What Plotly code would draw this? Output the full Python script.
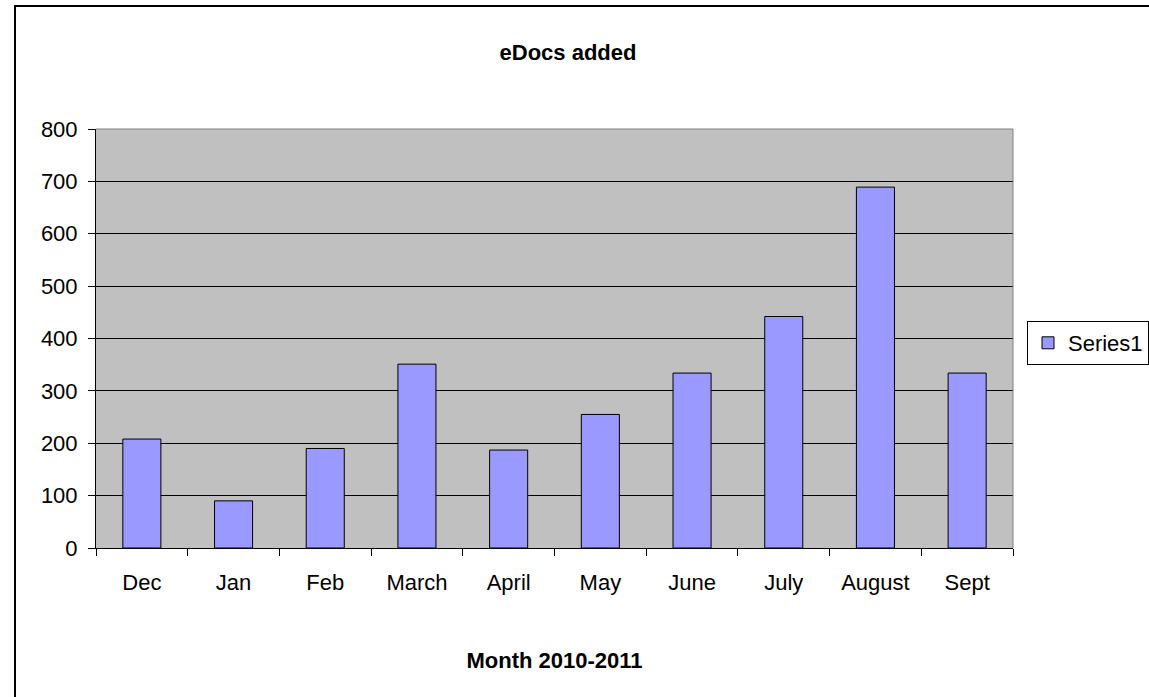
import plotly.graph_objects as go

months = ["Dec", "Jan", "Feb", "March", "April", "May", "June", "July", "August", "Sept"]
edocs = [208, 90, 190, 351, 187, 255, 334, 442, 689, 334]
y_ticks = [0, 100, 200, 300, 400, 500, 600, 700, 800]

W, H = 1149, 697
L, R, T, B = 96, 136, 129, 149
pw, ph = W - L - R, H - T - B

fig = go.Figure()
fig.add_trace(go.Bar(
    x=months, y=edocs, name="Series1",
    marker=dict(color="#9999FF", line=dict(color="black", width=1)),
))

FONT = "Liberation Sans, Arial, sans-serif"

fig.update_layout(
    width=W, height=H,
    margin=dict(l=L, r=R, t=T, b=B, autoexpand=False),
    paper_bgcolor="white",
    plot_bgcolor="#C0C0C0",
    bargap=0.585,
    font=dict(family=FONT, size=22, color="black"),
    title=dict(text="<b>eDocs added</b>", x=568 / W, xanchor="center",
               y=1 - 52 / H, yanchor="middle", font=dict(size=22)),
    showlegend=True,
    legend=dict(x=(1027 - L) / pw, xanchor="left", y=1 - (321 - T) / ph, yanchor="top",
                bordercolor="black", borderwidth=1, bgcolor="white",
                font=dict(size=22), itemwidth=30, tracegroupgap=0),
    xaxis=dict(
        showgrid=False, showline=True, linecolor="black", linewidth=1,
        ticks="outside", tickson="boundaries", ticklen=7, tickcolor="black",
        ticklabelstandoff=15,
        title=dict(text="<b>Month 2010-2011</b>", font=dict(size=22), standoff=58),
        mirror=False,
    ),
    yaxis=dict(
        range=[0, 800], tickvals=y_ticks, showgrid=True, gridcolor="black", gridwidth=1,
        showline=True, linecolor="black", linewidth=1,
        ticks="outside", ticklen=7, tickcolor="black", ticklabelstandoff=6,
        zeroline=False,
    ),
)

# plot-area right/top border (grey)
fig.add_shape(type="line", xref="paper", yref="paper", x0=1, x1=1, y0=0, y1=1,
              line=dict(color="#808080", width=1))
fig.add_shape(type="line", xref="paper", yref="paper", x0=0, x1=1, y0=1, y1=1,
              line=dict(color="#808080", width=1))

# outer chart border (cut off at right and bottom)
fig.add_shape(type="rect", xref="paper", yref="paper",
              x0=(15 - L) / pw, x1=(W + 20 - L) / pw,
              y0=-(H + 20 - T - ph) / ph, y1=1 + (T - 6) / ph,
              line=dict(color="black", width=2), layer="below")

fig.write_html("out.html")
